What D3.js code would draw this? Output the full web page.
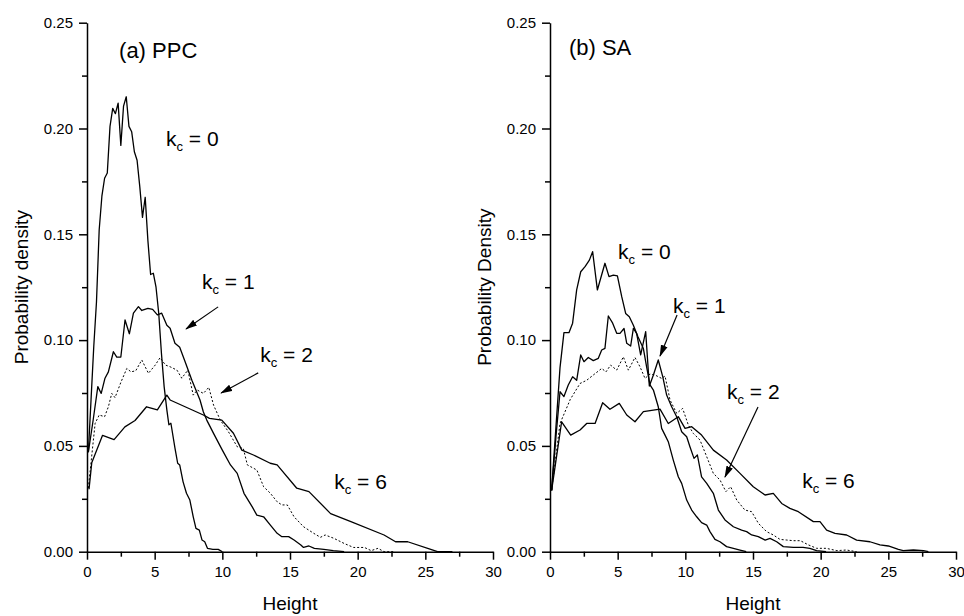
<!DOCTYPE html>
<html>
<head>
<meta charset="utf-8">
<script src="https://cdn.jsdelivr.net/npm/d3@7"></script>
<style>
  body { margin: 0; background: #fff; }
  .chart text { font-family: "Liberation Sans", Arial, sans-serif; fill: #000; }
  .tick text { font-size: 15px; }
  .domain, .tick line { stroke: #000; stroke-width: 1.5px; }
</style>
</head>
<body>
<div class="chart"></div>
<script>
// Height distributions: [height, probability density]
var ppcK0 = [[0.1,0.047],[0.3,0.072],[0.5,0.097],[0.7,0.118],[0.9,0.152],[1.1,0.168],[1.3,0.1765],[1.5,0.179],[1.7,0.201],[1.9,0.2095],[2.1,0.207],[2.3,0.212],[2.5,0.192],[2.7,0.2106],[2.9,0.215],[3.1,0.201],[3.3,0.1985],[3.5,0.189],[3.7,0.185],[3.9,0.1725],[4.1,0.158],[4.3,0.1675],[4.5,0.147],[4.7,0.131],[4.9,0.1316],[5.1,0.125],[5.3,0.1127],[5.5,0.0938],[5.7,0.078],[5.9,0.067],[6.05,0.060],[6.2,0.0607],[6.5,0.0489],[6.7,0.0418],[6.85,0.041],[7.1,0.033],[7.35,0.0276],[7.6,0.0244],[7.85,0.0165],[8.05,0.011],[8.3,0.0102],[8.5,0.0055],[8.7,0.0047],[8.9,0.0016],[9.3,0.0011],[9.7,0.0011],[10.0,0]];
var ppcK1 = [[0.1,0.047],[0.45,0.062],[0.8,0.078],[1.05,0.0748],[1.33,0.082],[1.58,0.085],[1.95,0.0945],[2.2,0.092],[2.5,0.092],[2.81,0.1095],[3.13,0.103],[3.43,0.1127],[3.8,0.1158],[4.05,0.114],[4.5,0.115],[4.85,0.1145],[5.2,0.1119],[5.52,0.1127],[5.9,0.107],[6.14,0.1056],[6.5,0.0985],[6.85,0.0966],[7.25,0.0898],[7.75,0.081],[8.35,0.0717],[8.6,0.066],[8.85,0.0622],[9.35,0.0559],[10.0,0.048],[10.6,0.041],[11.1,0.037],[11.6,0.0276],[12.2,0.0213],[12.55,0.0173],[13.05,0.0165],[13.55,0.0126],[14.05,0.0087],[14.4,0.0071],[14.9,0.0071],[15.3,0.0055],[15.8,0.0032],[16.0,0.002],[16.4,0.0027],[16.8,0.0016],[17.5,0.0011],[18.2,0.0005],[19.0,0]];
var ppcK2 = [[0.1,0.030],[0.6,0.0606],[0.9,0.0646],[1.3,0.0638],[1.58,0.0685],[1.83,0.0748],[2.07,0.0728],[2.5,0.080],[2.94,0.0866],[3.25,0.085],[3.6,0.0855],[4.05,0.0906],[4.54,0.0843],[5.04,0.0882],[5.4,0.0917],[5.8,0.0882],[6.14,0.0874],[6.65,0.0858],[7.0,0.082],[7.45,0.0858],[7.85,0.074],[8.15,0.0764],[8.6,0.0748],[9.0,0.0777],[9.35,0.0693],[9.85,0.0622],[10.45,0.0567],[11.1,0.0496],[11.55,0.0488],[11.85,0.041],[12.55,0.0386],[13.05,0.0307],[13.55,0.0276],[14.05,0.0236],[14.4,0.0221],[14.8,0.0221],[15.3,0.0165],[16.0,0.0118],[16.75,0.0087],[17.25,0.0068],[17.6,0.0079],[18.25,0.0063],[19.0,0.0039],[19.7,0.002],[20.5,0.002],[21.0,0.0005],[21.5,0.0016],[21.95,0],[22.7,0]];
var ppcK6 = [[0.15,0.0295],[0.35,0.042],[1.15,0.055],[2.0,0.053],[2.8,0.059],[3.55,0.062],[4.4,0.0685],[5.2,0.067],[5.9,0.074],[6.14,0.0717],[8.6,0.0646],[9.05,0.063],[9.96,0.0622],[10.82,0.056],[11.44,0.048],[12.3,0.0457],[13.54,0.0418],[14.05,0.041],[15.5,0.030],[16.4,0.0284],[18.0,0.018],[19.5,0.0142],[21.95,0.0079],[22.8,0.0047],[23.7,0.0047],[25.4,0.0011],[25.9,0],[27.0,0]];

var saK0 = [[0.12,0.029],[0.45,0.06],[0.74,0.087],[1.03,0.1035],[1.4,0.1035],[1.67,0.108],[1.97,0.1237],[2.27,0.1323],[2.59,0.1347],[2.91,0.1378],[3.15,0.1418],[3.5,0.1237],[4.06,0.1363],[4.36,0.130],[4.68,0.1307],[4.98,0.1303],[5.3,0.1205],[5.59,0.1126],[5.86,0.111],[6.16,0.107],[6.5,0.1016],[6.9,0.096],[7.14,0.0874],[7.39,0.0788],[7.64,0.0764],[8.0,0.0685],[8.25,0.0583],[8.5,0.0551],[8.74,0.052],[9.11,0.0433],[9.48,0.0354],[9.73,0.0323],[10.1,0.0244],[10.47,0.0197],[10.84,0.0165],[11.2,0.0137],[11.58,0.0126],[11.82,0.0095],[12.19,0.0058],[12.56,0.0047],[13.05,0.0024],[13.55,0.0016],[14.04,0.0008],[14.5,0]];
var saK1 = [[0.12,0.029],[0.45,0.055],[0.74,0.0756],[1.03,0.0733],[1.35,0.0788],[1.67,0.0827],[1.97,0.081],[2.27,0.093],[2.51,0.0898],[2.83,0.0918],[3.2,0.0903],[3.57,0.0914],[3.82,0.0953],[4.06,0.0961],[4.31,0.1114],[4.63,0.108],[4.93,0.1032],[5.17,0.1032],[5.47,0.1055],[5.67,0.0985],[5.96,0.0972],[6.16,0.1055],[6.4,0.1032],[6.7,0.093],[7.07,0.104],[7.34,0.0783],[7.64,0.0835],[8.0,0.0906],[8.33,0.0827],[8.62,0.074],[8.99,0.0685],[9.36,0.0638],[9.73,0.0567],[10.1,0.0543],[10.34,0.0496],[10.64,0.0441],[10.89,0.0457],[11.2,0.0354],[11.58,0.0323],[12.07,0.0276],[12.44,0.0197],[12.93,0.015],[13.55,0.0118],[14.16,0.0102],[14.53,0.0095],[14.9,0.0079],[15.39,0.0071],[15.9,0.0055],[16.26,0.0063],[16.75,0.0047],[17.24,0.0024],[17.98,0.002],[18.7,0.002],[19.2,0.0016],[19.7,0.0005],[20.4,0]];
var saK2 = [[0.12,0.029],[0.74,0.0606],[1.5,0.072],[2.22,0.0795],[2.71,0.081],[3.2,0.0835],[3.82,0.0866],[4.14,0.085],[4.48,0.0882],[4.93,0.0858],[5.42,0.0921],[5.79,0.0858],[6.28,0.0918],[6.65,0.0874],[7.02,0.0819],[7.39,0.084],[7.76,0.0835],[8.25,0.0819],[8.5,0.083],[8.87,0.0717],[9.36,0.0654],[9.8,0.0677],[10.22,0.0599],[10.59,0.0559],[11.08,0.0528],[11.58,0.0449],[12.07,0.037],[12.56,0.0339],[13.0,0.0284],[13.35,0.0307],[13.8,0.0244],[14.4,0.0197],[14.9,0.0189],[15.4,0.0134],[16.0,0.0095],[16.5,0.0079],[17.0,0.0058],[17.5,0.0055],[18.0,0.0052],[18.5,0.0052],[19.1,0.0032],[19.7,0.0016],[20.4,0.0016],[21.2,0.0005],[21.9,0.0008],[22.66,0]];
var saK6 = [[0.12,0.029],[0.86,0.0614],[1.53,0.0551],[2.22,0.0575],[2.71,0.0606],[3.33,0.0606],[3.89,0.0704],[4.43,0.0673],[5.12,0.0701],[5.67,0.0646],[6.28,0.0614],[6.9,0.0662],[8.13,0.0674],[8.74,0.0606],[9.48,0.0638],[9.98,0.0583],[10.47,0.0591],[11.2,0.0551],[12.07,0.048],[13.05,0.0433],[14.04,0.037],[15.02,0.0307],[15.89,0.0268],[16.5,0.0276],[17.12,0.0228],[17.73,0.0205],[18.35,0.0189],[19.46,0.0142],[19.95,0.0142],[20.44,0.0102],[21.06,0.0087],[21.92,0.0079],[22.66,0.0055],[23.64,0.0047],[24.38,0.0032],[25.0,0.0027],[25.74,0.0011],[26.1,0.0005],[26.85,0.0008],[27.6,0.0005],[27.96,0]];

// tick values
var xTicks = [0, 5, 10, 15, 20, 25, 30];
var xMinorTicks = [2.5, 7.5, 12.5, 17.5, 22.5, 27.5];
var yTicks = [0, 0.05, 0.10, 0.15, 0.20, 0.25];
var yMinorTicks = [0.025, 0.075, 0.125, 0.175, 0.225];

// curve labels (k value, label anchor in data units) and arrows [x1,y1,x2,y2]
var ppcLabels = [["0", 5.84, 0.1917], ["1", 8.5, 0.124], ["2", 12.8, 0.0897], ["6", 18.27, 0.0296]];
var ppcArrows = [[9.69, 0.1157, 7.32, 0.1053], [12.65, 0.0845, 9.91, 0.075]];
var saLabels = [["0", 5.03, 0.1383], ["1", 9.09, 0.1128], ["2", 13.08, 0.0722], ["6", 18.63, 0.0301]];
var saArrows = [[9.39, 0.1119, 8.13, 0.0925], [15.37, 0.0684, 12.93, 0.0353]];

var svgWidth = 964;
var svgHeight = 616;

var svg = d3.select(".chart")
  .append("svg")
  .attr("width", svgWidth)
  .attr("height", svgHeight);

// arrow head
svg.append("defs")
  .append("marker")
  .attr("id", "arrow")
  .attr("markerUnits", "userSpaceOnUse")
  .attr("markerWidth", 12)
  .attr("markerHeight", 8)
  .attr("refX", 11)
  .attr("refY", 4)
  .attr("orient", "auto")
  .append("path")
  .attr("d", "M0,0.5 L12,4 L0,7.5 Z")
  .attr("fill", "#000");

function drawPanel(opts) {
  var xScale = d3.scaleLinear().domain([0, 30]).range([opts.left, opts.left + 406]);
  var yScale = d3.scaleLinear().domain([0, 0.25]).range([551.7, 22.7]);

  var g = svg.append("g");

  // minor ticks first, then the major axis on top
  g.append("g")
    .attr("transform", "translate(0," + yScale(0) + ")")
    .call(d3.axisBottom(xScale).tickValues(xMinorTicks).tickSize(5).tickFormat(""))
    .select(".domain").remove();
  g.append("g")
    .attr("transform", "translate(" + xScale(0) + ",0)")
    .call(d3.axisLeft(yScale).tickValues(yMinorTicks).tickSize(5).tickFormat(""))
    .select(".domain").remove();

  g.append("g")
    .attr("transform", "translate(0," + yScale(0) + ")")
    .call(d3.axisBottom(xScale).tickValues(xTicks).tickSize(8).tickSizeOuter(0).tickPadding(7).tickFormat(d3.format("d")));
  g.append("g")
    .attr("transform", "translate(" + xScale(0) + ",0)")
    .call(d3.axisLeft(yScale).tickValues(yTicks).tickSize(8).tickSizeOuter(0).tickPadding(6).tickFormat(d3.format(".2f")));

  var line = d3.line()
    .x(function (d) { return xScale(d[0]); })
    .y(function (d) { return yScale(d[1]); });

  opts.series.forEach(function (s, i) {
    g.append("path")
      .datum(s)
      .attr("d", line)
      .attr("fill", "none")
      .attr("stroke", "#000")
      .attr("stroke-width", i == 2 ? 1 : 1.3)
      .attr("stroke-dasharray", i == 2 ? "2,2" : null)
      .attr("stroke-linejoin", "round");
  });

  // axis titles
  g.append("text")
    .attr("x", xScale(15))
    .attr("y", 610)
    .attr("text-anchor", "middle")
    .style("font-size", "19px")
    .text("Height");

  g.append("text")
    .attr("transform", "translate(" + (opts.left - 59) + "," + yScale(0.125) + ") rotate(-90)")
    .attr("text-anchor", "middle")
    .style("font-size", "19px")
    .text(opts.yTitle);

  // panel title
  g.append("text")
    .attr("x", xScale(opts.title[1]))
    .attr("y", yScale(opts.title[2]))
    .style("font-size", "22px")
    .text(opts.title[0]);

  // k_c labels
  opts.labels.forEach(function (l) {
    var t = g.append("text")
      .attr("x", xScale(l[1]))
      .attr("y", yScale(l[2]))
      .style("font-size", "21px");
    t.append("tspan").text("k");
    t.append("tspan").attr("dy", 5).style("font-size", "13px").text("c");
    t.append("tspan").attr("dy", -5).text(" = " + l[0]);
  });

  opts.arrows.forEach(function (a) {
    g.append("line")
      .attr("x1", xScale(a[0]))
      .attr("y1", yScale(a[1]))
      .attr("x2", xScale(a[2]))
      .attr("y2", yScale(a[3]))
      .attr("stroke", "#000")
      .attr("stroke-width", 1.2)
      .attr("marker-end", "url(#arrow)");
  });
}

drawPanel({
  left: 87,
  series: [ppcK0, ppcK1, ppcK2, ppcK6],
  yTitle: "Probability density",
  title: ["(a) PPC", 2.37, 0.2333],
  labels: ppcLabels,
  arrows: ppcArrows
});

drawPanel({
  left: 550,
  series: [saK0, saK1, saK2, saK6],
  yTitle: "Probability Density",
  title: ["(b) SA", 1.4, 0.2347],
  labels: saLabels,
  arrows: saArrows
});
</script>
</body>
</html>
